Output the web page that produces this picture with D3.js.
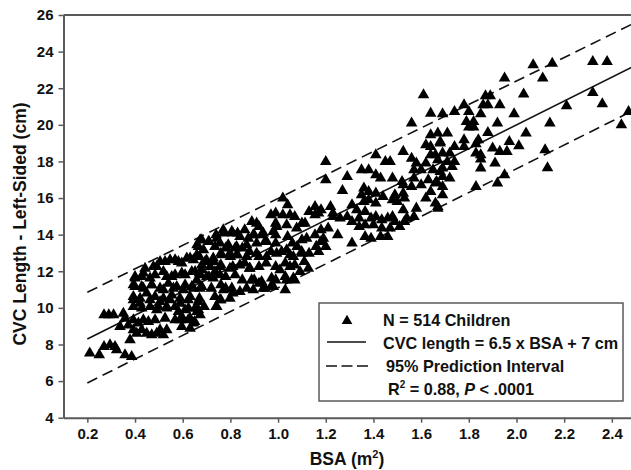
<!DOCTYPE html>
<html><head><meta charset="utf-8">
<script src="https://cdn.jsdelivr.net/npm/d3@7/dist/d3.min.js"></script>
<style>
html,body{margin:0;padding:0;background:#fff;overflow:hidden;}
text{font-family:"Liberation Sans",Arial,sans-serif;font-weight:bold;fill:#111;}
</style></head>
<body><svg id="c" width="631" height="470"></svg>
<script>
// ---- data ----
const xTicks = [0.2,0.4,0.6,0.8,1.0,1.2,1.4,1.6,1.8,2.0,2.2,2.4];
const yTicks = [4,6,8,10,12,14,16,18,20,22,24,26];
const xLabel = "BSA (m";
const yLabel = "CVC Length - Left-Sided (cm)";
const legendLabels = ["N = 514 Children","CVC length = 6.5 x BSA + 7 cm","95% Prediction Interval"];
const fitLine = [[0.2,8.3],[2.5,23.25]];
const upperPI = [[0.2,10.85],[2.5,25.6]];
const lowerPI = [[0.2,5.9],[2.5,20.85]];
const children = [
// BSA > 1.6
[2.07,23.27],[2.15,23.35],[1.95,22.55],[2.11,22.55],[2.03,21.67],[1.87,21.58],[1.89,21.58],[1.78,21.09],[1.86,21.09],[1.88,21.09],[1.93,21.09],
[1.74,20.72],[1.69,20.6],[1.80,20.72],[1.85,20.6],[1.99,20.6],[1.79,20.17],[1.82,20.17],[1.92,20.09],[1.80,19.87],[1.82,19.87],[2.14,20.09],
[1.67,19.54],[1.71,19.54],[1.88,19.57],[2.04,19.54],[1.78,19.17],[1.84,19.17],[1.68,19.08],[1.97,19.08],[1.74,18.81],[1.78,18.81],[1.83,18.96],
[2.01,18.85],[1.90,18.72],[1.93,18.54],[1.96,18.54],[2.12,18.63],[1.69,18.45],[1.72,18.45],[1.83,18.45],[1.85,18.36],[1.67,18.08],[1.71,17.99],
[1.74,17.99],[1.85,18.12],[1.91,17.9],[1.85,17.63],[1.69,17.63],[1.73,17.72],[2.13,17.65],[1.69,17.17],[1.72,17.08],[1.66,16.81],[1.69,16.62],
[1.83,16.62],[1.92,16.81],[1.95,17.26],[1.67,15.53],[2.32,23.45],[2.38,23.45],[2.32,21.76],[2.21,21.03],[2.36,21.14],[2.47,20.72],[2.44,20.0],
[1.61,21.63],[1.64,20.63],[1.64,19.45],[1.62,18.9],
// BSA 1.15 - 1.7
[1.56,20.09],[1.20,17.99],[1.525,18.54],[1.41,18.36],[1.35,17.54],[1.38,17.54],[1.45,17.99],[1.47,17.99],[1.29,17.17],[1.20,16.99],[1.27,16.4],
[1.41,17.26],[1.43,17.08],[1.48,17.08],[1.52,16.9],[1.56,18.17],[1.58,17.9],[1.62,17.9],[1.64,18.36],[1.66,18.36],[1.68,19.0],[1.64,18.81],
[1.57,17.54],[1.60,17.54],[1.65,17.54],[1.68,17.44],[1.63,16.99],[1.665,16.9],[1.57,17.08],[1.60,16.72],[1.56,16.62],[1.525,16.72],[1.64,16.35],
[1.69,16.17],[1.36,16.54],[1.38,16.35],[1.35,16.17],[1.41,16.26],[1.44,16.08],[1.49,16.17],[1.525,16.26],[1.62,15.99],[1.66,15.72],[1.67,15.44],
[1.31,15.62],[1.36,15.8],[1.38,15.9],[1.41,15.72],[1.48,15.9],[1.50,15.8],[1.53,15.99],[1.155,15.53],[1.18,15.35],[1.17,15.17],[1.23,14.98],
[1.26,14.9],[1.29,14.98],[1.33,15.35],[1.365,15.26],[1.34,14.9],[1.39,14.9],[1.41,14.98],[1.435,14.8],[1.46,14.9],[1.48,14.98],[1.525,15.35],
[1.58,15.44],[1.54,14.9],[1.57,14.98],[1.31,14.71],[1.34,14.44],[1.365,14.53],[1.40,14.53],[1.435,14.35],[1.47,14.35],[1.49,14.71],[1.18,14.26],
[1.21,14.35],[1.155,13.98],[1.19,13.8],[1.20,13.35],[1.25,13.98],[1.31,13.53],[1.365,13.89],[1.39,13.8],[1.43,13.89],[1.46,13.89],[1.51,14.44],[1.53,14.71],
// BSA 0.65 - 1.25
[1.02,15.99],[1.04,15.62],[0.97,15.08],[0.99,15.17],[1.02,15.08],[1.05,15.08],[1.07,14.98],[0.99,14.62],[1.10,14.62],[0.89,14.71],[0.91,14.62],
[0.92,14.44],[1.13,15.26],[1.155,15.08],[1.22,15.53],[1.23,15.17],[0.81,14.08],[0.86,14.26],[0.83,14.08],[0.90,13.98],[0.875,13.8],[0.77,14.26],
[0.74,13.98],[0.68,13.71],[0.71,13.62],[0.66,13.44],[0.93,13.98],[0.945,13.62],[0.99,13.98],[0.99,13.53],[1.04,13.89],[1.06,13.53],[1.10,13.71],
[1.12,13.8],[1.08,13.35],[1.16,13.35],[1.18,13.62],[1.17,13.07],
[0.735,13.34],[0.78,13.26],[0.82,13.26],[0.85,13.26],[0.76,12.98],[0.80,12.8],[0.83,12.89],[0.88,13.07],[0.92,12.8],[0.97,13.07],[1.015,13.07],
[1.05,12.89],[1.10,12.98],[1.13,12.98],
[0.67,12.8],[0.70,12.61],[0.68,12.34],[0.73,12.52],[0.76,12.34],[0.81,12.25],[0.86,12.44],[0.88,12.16],[0.92,12.25],[0.95,12.44],[0.99,12.25],
[1.03,12.44],[1.07,12.34],[1.11,12.52],
[0.67,11.89],[0.71,11.7],[0.735,11.98],[0.78,11.7],[0.82,11.8],[0.85,11.52],[0.90,11.52],[0.92,11.34],[0.99,11.52],[1.03,11.7],[0.97,11.16],
[0.945,11.07],[1.03,10.98],[1.07,11.52],
[0.68,11.16],[0.72,11.07],[0.76,11.25],[0.78,11.07],[0.81,10.8],[0.735,10.61],[0.76,10.43],[0.67,10.52],[0.69,10.07],[0.74,10.07],[0.66,9.79],[0.65,9.25],
// BSA 0.2 - 0.7
[0.21,7.52],[0.25,7.43],[0.27,9.61],[0.29,9.61],[0.31,9.61],[0.27,7.88],[0.295,7.97],[0.316,7.88],[0.323,7.7],[0.358,7.43],[0.351,9.7],
[0.358,9.43],[0.337,8.97],[0.372,9.06],[0.379,8.25],[0.386,7.33],[0.393,8.79],[0.407,8.61],[0.428,8.79],[0.393,9.34],[0.414,9.16],[0.435,9.34],
[0.456,9.25],[0.449,8.61],[0.47,8.52],[0.491,8.61],[0.519,8.52],[0.505,8.79],[0.533,8.79],[0.484,9.34],[0.526,9.43],[0.568,9.34],[0.596,9.52],
[0.623,9.34],[0.645,9.16],[0.596,8.97],[0.631,8.88],
[0.393,10.07],[0.428,9.98],[0.463,10.07],[0.498,10.07],[0.533,9.98],[0.568,10.07],[0.61,9.89],[0.652,9.98],[0.673,9.61],
[0.393,10.61],[0.421,10.52],[0.449,10.8],[0.484,10.61],[0.519,10.52],[0.554,10.7],[0.589,10.52],[0.631,10.61],[0.666,10.34],
[0.393,11.25],[0.428,11.16],[0.47,11.25],[0.505,11.07],[0.54,11.34],[0.575,11.16],[0.61,11.25],[0.645,11.07],
[0.40,11.7],[0.435,11.89],[0.484,11.8],[0.519,11.98],[0.554,11.7],[0.596,11.89],[0.638,11.98],[0.673,11.8],
[0.442,12.16],[0.491,12.25],[0.526,12.52],[0.568,12.62],[0.596,12.44],[0.631,12.71],[0.659,12.89],[0.687,13.16],[0.666,13.34],
// dense core, BSA 0.35 - 1.13
[0.40,11.62],[0.428,11.7],[0.463,11.62],[0.40,11.16],[0.435,11.07],[0.47,11.25],
[0.393,10.43],[0.421,10.25],[0.463,10.43],[0.505,10.34],[0.547,10.43],[0.589,10.25],[0.623,10.43],
[0.477,12.25],[0.505,12.52],[0.547,12.62],[0.582,12.52],[0.617,12.71],[0.645,12.62],
[0.533,11.7],[0.568,11.8],[0.61,11.8],[0.652,11.98],[0.68,12.07],
[0.519,10.98],[0.561,11.07],[0.603,10.98],[0.638,11.16],[0.673,11.07],
[0.491,9.89],[0.533,10.07],[0.582,9.79],[0.624,9.98],[0.666,9.89],[0.589,9.34],[0.631,9.43],
[0.659,11.52],[0.701,11.7],[0.728,11.62],[0.756,11.8],
[0.694,12.52],[0.728,12.71],[0.764,12.89],[0.798,12.98],
[0.673,13.71],[0.708,13.62],[0.743,13.8],[0.771,14.08],[0.806,14.17],[0.84,13.89],
[0.756,13.53],[0.791,13.44],[0.826,13.34],[0.868,13.44],
[0.771,10.98],[0.806,11.07],[0.84,10.89],[0.868,11.07],[0.756,10.43],[0.798,10.52],[0.743,10.07],
[0.715,12.25],[0.756,12.25],[0.798,12.16],[0.84,12.34],[0.882,12.16],
[0.826,12.89],[0.868,12.8],[0.91,12.98],[0.952,12.8],
[0.889,11.52],[0.931,11.43],[0.973,11.62],[0.896,10.98],[0.938,11.07],[0.98,11.16],
[0.896,13.98],[0.938,14.08],[0.98,14.17],[0.91,13.53],[0.952,13.62],
[0.994,12.98],[1.036,13.16],[1.064,12.8],[1.099,13.07],
[1.008,12.07],[1.05,12.25],[1.092,11.98],[1.127,12.16],[1.036,11.52],[1.064,11.62],
[0.994,14.44],[1.036,14.53],[1.078,14.35],[1.113,14.62]
];

// ---- drawing ----
const svg = d3.select("#c");
const x = d3.scaleLinear().domain([0.1, 2.5]).range([63.5, 635.7]);
const y = d3.scaleLinear().domain([4, 26]).range([417.7, 15]);
const axisColor = "#5a5a5a";

// top frame line
svg.append("line").attr("x1", x(0.1)).attr("x2", 631).attr("y1", y(26)).attr("y2", y(26))
  .attr("stroke", axisColor).attr("stroke-width", 2);

const gx = svg.append("g").attr("transform", `translate(0,${y(4)})`)
  .call(d3.axisBottom(x).tickValues(xTicks).tickFormat(d3.format(".1f")).tickSize(5).tickSizeOuter(0).tickPadding(6));
const gy = svg.append("g").attr("transform", `translate(${x(0.1)},0)`)
  .call(d3.axisLeft(y).tickValues(yTicks).tickSize(5).tickSizeOuter(0).tickPadding(5));
[gx, gy].forEach(g => {
  g.select(".domain").attr("stroke", axisColor).attr("stroke-width", 2);
  g.selectAll(".tick line").attr("stroke", axisColor).attr("stroke-width", 1.5);
  g.selectAll(".tick text").attr("font-size", 15).attr("font-weight", "bold")
    .attr("font-family", '"Liberation Sans",Arial,sans-serif').attr("fill", "#111");
});

const line = d3.line().x(d => x(d[0])).y(d => y(d[1]));
svg.append("path").datum(fitLine).attr("d", line).attr("fill", "none").attr("stroke", "#111").attr("stroke-width", 1.6);
[upperPI, lowerPI].forEach(p => svg.append("path").datum(p).attr("d", line).attr("fill", "none")
  .attr("stroke", "#111").attr("stroke-width", 1.6).attr("stroke-dasharray", "11,6"));

const tri = d3.symbol().type(d3.symbolTriangle).size(58);
svg.append("g").selectAll("path").data(children).join("path")
  .attr("d", tri).attr("transform", d => `translate(${x(d[0])},${y(d[1])})`).attr("fill", "#000");

// axis titles
svg.append("text").attr("transform", "translate(26,224) rotate(-90)").attr("text-anchor", "middle")
  .attr("font-size", 17.5).text(yLabel);
const xt = svg.append("text").attr("x", 347).attr("y", 465).attr("text-anchor", "middle").attr("font-size", 17.5);
xt.append("tspan").text(xLabel);
xt.append("tspan").attr("font-size", 11).attr("dy", -7).text("2");
xt.append("tspan").attr("dy", 7).text(")");

// legend
const lg = svg.append("g");
lg.append("rect").attr("x", 319).attr("y", 303).attr("width", 304).attr("height", 98)
  .attr("fill", "#fff").attr("stroke", axisColor).attr("stroke-width", 1.5);
lg.append("path").attr("d", d3.symbol().type(d3.symbolTriangle).size(50)).attr("transform", "translate(347,321)").attr("fill", "#000");
lg.append("line").attr("x1", 327).attr("x2", 366).attr("y1", 342).attr("y2", 342).attr("stroke", "#111").attr("stroke-width", 1.6);
lg.append("line").attr("x1", 326).attr("x2", 368).attr("y1", 366).attr("y2", 366).attr("stroke", "#111").attr("stroke-width", 1.6).attr("stroke-dasharray", "11,4.5");
const rows = [325.5, 348.5, 371.5];
const xs = [383, 383, 386];
legendLabels.forEach((t, i) => lg.append("text").attr("x", xs[i]).attr("y", rows[i]).attr("font-size", 16.2).text(t));
const r2 = lg.append("text").attr("x", 388).attr("y", 394.5).attr("font-size", 16.2);
r2.append("tspan").text("R");
r2.append("tspan").attr("font-size", 10).attr("dy", -6.5).text("2");
r2.append("tspan").attr("dy", 6.5).text(" = 0.88, ");
r2.append("tspan").attr("font-style", "italic").text("P");
r2.append("tspan").text(" < .0001");
</script></body></html>
